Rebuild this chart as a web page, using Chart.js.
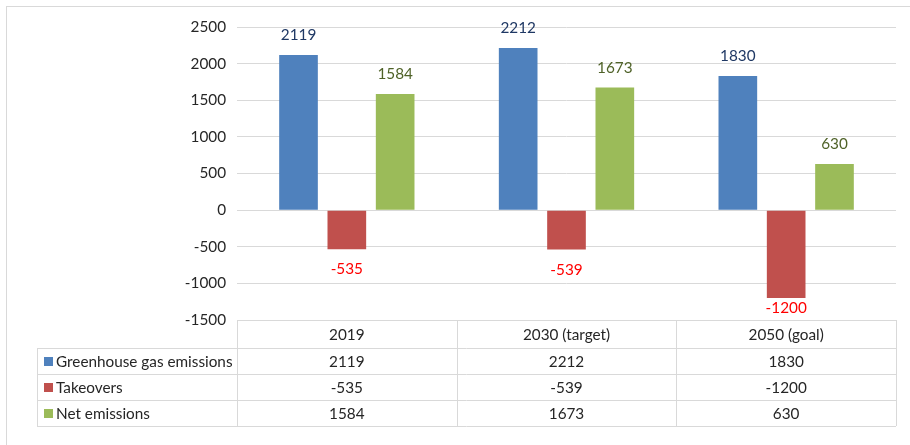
<!DOCTYPE html>
<html>
<head>
<meta charset="utf-8">
<script src="https://cdn.jsdelivr.net/npm/chart.js@4"></script>
<style>
  html, body { margin: 0; padding: 0; background: #fff; }
  #wrap { width: 910px; height: 445px; position: relative; }
</style>
</head>
<body>
<div id="wrap"><canvas id="barChart" width="910" height="445"></canvas></div>
<script>
// data
var categories = ['2019', '2030 (target)', '2050 (goal)'];
var seriesNames = ['Greenhouse gas emissions', 'Takeovers', 'Net emissions'];
var greenhouse = [2119, 2212, 1830];
var takeovers = [-535, -539, -1200];
var netEmissions = [1584, 1673, 630];
var yTicks = [-1500, -1000, -500, 0, 500, 1000, 1500, 2000, 2500];

var barColors = ['#4F81BD', '#C0504D', '#9BBB59'];
var labelColors = ['#1F3864', '#FF0000', '#4F6228'];
var FONT = 'Lato, "Open Sans", sans-serif';
var FSIZE = 15.3;

// value labels above / below the bars
var valueLabels = {
    id: 'valueLabels',
    afterDatasetsDraw: function(chart) {
        var ctx = chart.ctx;
        var area = chart.chartArea;
        ctx.save();
        ctx.font = FSIZE + 'px ' + FONT;
        ctx.textAlign = 'center';
        ctx.textBaseline = 'middle';
        chart.data.datasets.forEach(function(ds, i) {
            chart.getDatasetMeta(i).data.forEach(function(bar, j) {
                var v = ds.data[j];
                var y = v >= 0 ? bar.y - 20 : bar.y + 20;
                if (y > area.bottom - 12) y = area.bottom - 12;
                ctx.fillStyle = labelColors[i];
                ctx.fillText(String(v), bar.x, y);
            });
        });
        ctx.restore();
    }
};

// frame + data table under the plot
var dataTable = {
    id: 'dataTable',
    afterDraw: function(chart) {
        var ctx = chart.ctx;
        var area = chart.chartArea;
        var xs = chart.scales.x;
        var rowH = [28, 26, 26, 26];
        var legendLeft = 37;
        var top = area.bottom;
        var rows = [top];
        rowH.forEach(function(h) { rows.push(rows[rows.length - 1] + h); });
        var step = (area.right - area.left) / categories.length;
        var cols = [];
        for (var c = 0; c <= categories.length; c++) cols.push(area.left + c * step);

        ctx.save();
        // outer frame
        ctx.strokeStyle = '#d9d9d9';
        ctx.lineWidth = 1;
        ctx.strokeRect(6.5, 6.5, 960, 500);

        ctx.beginPath();
        // horizontal lines
        ctx.moveTo(area.left, Math.round(rows[0]) + 0.5);
        ctx.lineTo(area.right, Math.round(rows[0]) + 0.5);
        for (var r = 1; r < rows.length; r++) {
            ctx.moveTo(legendLeft, Math.round(rows[r]) + 0.5);
            ctx.lineTo(area.right, Math.round(rows[r]) + 0.5);
        }
        // vertical lines
        cols.forEach(function(x) {
            ctx.moveTo(Math.round(x) + 0.5, rows[0]);
            ctx.lineTo(Math.round(x) + 0.5, rows[rows.length - 1]);
        });
        ctx.moveTo(legendLeft + 0.5, rows[1]);
        ctx.lineTo(legendLeft + 0.5, rows[rows.length - 1]);
        ctx.stroke();

        ctx.font = FSIZE + 'px ' + FONT;
        ctx.textBaseline = 'middle';
        ctx.fillStyle = '#262626';
        ctx.textAlign = 'center';
        categories.forEach(function(cat, j) {
            ctx.fillText(cat, xs.getPixelForValue(j), (rows[0] + rows[1]) / 2 + 1);
        });
        var tableData = [greenhouse, takeovers, netEmissions];
        tableData.forEach(function(vals, i) {
            var yMid = (rows[i + 1] + rows[i + 2]) / 2 + 1;
            ctx.fillStyle = barColors[i];
            ctx.fillRect(44, Math.round(yMid - 5), 9, 9);
            ctx.fillStyle = '#262626';
            ctx.textAlign = 'left';
            ctx.fillText(seriesNames[i], 56, yMid);
            ctx.textAlign = 'center';
            vals.forEach(function(v, j) {
                ctx.fillText(String(v), xs.getPixelForValue(j), yMid);
            });
        });
        ctx.restore();
    }
};

var ctx = document.getElementById('barChart').getContext('2d');
var myChart = new Chart(ctx, {
    type: 'bar',
    data: {
        labels: categories,
        datasets: [
            { label: seriesNames[0], data: greenhouse, backgroundColor: barColors[0] },
            { label: seriesNames[1], data: takeovers, backgroundColor: barColors[1] },
            { label: seriesNames[2], data: netEmissions, backgroundColor: barColors[2] }
        ]
    },
    plugins: [valueLabels, dataTable],
    options: {
        responsive: false,
        animation: false,
        categoryPercentage: 0.66,
        barPercentage: 0.8,
        layout: { padding: { top: 27, right: 14, bottom: 125, left: 0 } },
        plugins: {
            legend: { display: false },
            tooltip: { enabled: false }
        },
        scales: {
            x: {
                display: false
            },
            y: {
                min: -1500,
                max: 2500,
                afterBuildTicks: function(scale) {
                    scale.ticks = yTicks.map(function(v) { return { value: v }; });
                },
                afterFit: function(scale) { scale.width = 237; },
                grid: { color: '#d9d9d9', drawTicks: false },
                border: { display: false },
                ticks: {
                    padding: 11,
                    color: '#262626',
                    font: { family: FONT, size: FSIZE },
                    callback: function(v) { return String(v); }
                }
            }
        }
    }
});
</script>
</body>
</html>
